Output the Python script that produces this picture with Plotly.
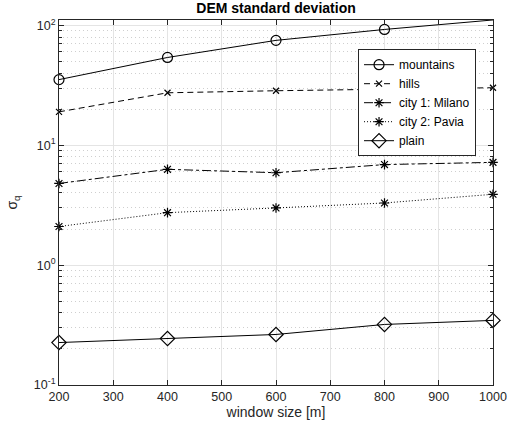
import plotly.graph_objects as go

window = [200, 400, 600, 800, 1000]
mountains = [35.3, 54, 75, 92.5, 111]
hills = [19, 27.4, 28.5, 29.5, 30.2]
milano = [4.8, 6.3, 5.9, 6.9, 7.2]
pavia = [2.1, 2.74, 3.0, 3.3, 3.9]
plain = [0.226, 0.244, 0.264, 0.32, 0.346]

series = [
    ("mountains", mountains, "solid", "circle-open", 10),
    ("hills", hills, "6px,4px", "x-thin-open", 6),
    ("city 1: Milano", milano, "dashdot", "asterisk-open", 8),
    ("city 2: Pavia", pavia, "1px,2px", "asterisk-open", 8),
    ("plain", plain, "solid", "diamond-open", 11),
]

FONT = "Liberation Sans, Arial, sans-serif"

fig = go.Figure()
for name, vals, dash, sym, size in series:
    fig.add_trace(go.Scatter(
        x=window, y=vals, name=name, mode="lines+markers",
        line=dict(color="black", width=1, dash=dash),
        marker=dict(symbol=sym, size=size, color="black",
                    line=dict(color="black", width=1.2)),
        cliponaxis=False,
    ))

axis_common = dict(
    showline=True, linecolor="#262626", linewidth=1, mirror="ticks",
    ticks="inside", ticklen=5, tickcolor="#262626", automargin=False,
    showgrid=True, gridcolor="#e4e4e4", gridwidth=1, zeroline=False,
    tickfont=dict(family=FONT, size=12.5, color="#262626"),
)

fig.update_layout(
    width=507, height=432,
    margin=dict(l=59, r=14, t=20, b=47),
    paper_bgcolor="white", plot_bgcolor="white",
    font=dict(family=FONT, size=12, color="#262626"),
    title=dict(text="<b>DEM standard deviation</b>", x=0.5, xanchor="center",
               xref="paper", yref="container", y=0.993, yanchor="top",
               font=dict(size=14, color="black")),
    xaxis=dict(range=[200, 1000], dtick=100, tick0=200,
               title=dict(text="window size [m]", standoff=3,
                          font=dict(size=14, color="#262626")),
               **axis_common),
    yaxis=dict(type="log", range=[-1, 2.045],
               tickvals=[0.1, 1, 10, 100],
               ticktext=["10<sup>-1</sup>", "10<sup>0</sup>", "10<sup>1</sup>", "10<sup>2</sup>"],
               title=dict(text="σ<sub>q</sub>", standoff=12,
                          font=dict(size=14, color="#262626")),
               minor=dict(ticks="inside", ticklen=3, tickcolor="#262626",
                          showgrid=True, gridcolor="#cfcfcf", griddash="1px,3px",
                          tickvals=[v * m for m in [0.1, 1, 10, 100] for v in range(2, 10)]),
               **axis_common),
    legend=dict(x=0.689, y=0.92, xanchor="left", yanchor="top",
                bgcolor="white", bordercolor="#262626", borderwidth=1,
                font=dict(size=12, color="black"),
                tracegroupgap=0, itemwidth=30),
    showlegend=True,
)

fig.write_html("out.html", config={"displayModeBar": False},
               post_script="document.body.style.margin='0px';")
